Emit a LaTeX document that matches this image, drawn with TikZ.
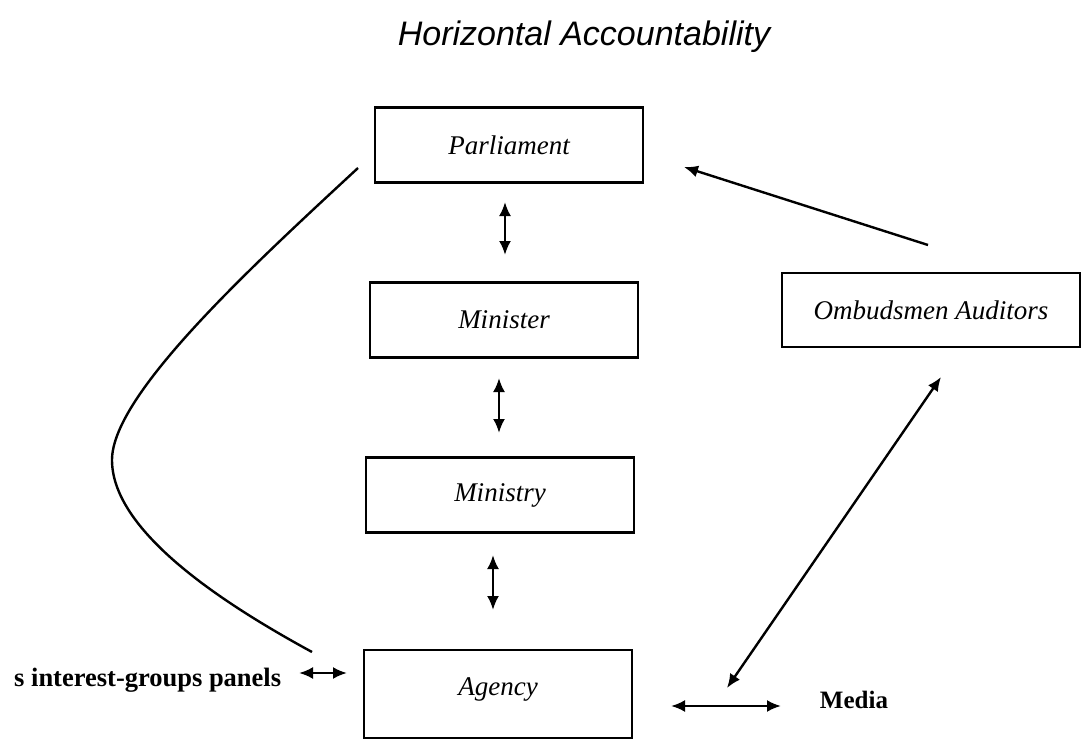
\documentclass[tikz,border=0pt]{standalone}
\usepackage{fontspec}
\setmainfont{Liberation Serif}
\newfontfamily\titlefont{Liberation Sans}
\usetikzlibrary{arrows.meta}
\begin{document}
\begin{tikzpicture}[x=1pt,y=-1pt,
  box/.style={draw, line width=2.4pt, minimum width=268pt, minimum height=75pt, inner sep=0pt,
    font=\fontsize{27}{31}\selectfont\itshape},
  tip/.tip={Latex[length=14pt,width=12pt]},
  conn/.style={line width=2.4pt, tip-tip},
  oneway/.style={line width=2.4pt, -tip},
  lbl/.style={font=\fontsize{26.5}{30}\selectfont\bfseries, inner sep=0pt}
]
\useasboundingbox (0,0) rectangle (1082,741);
\node[font=\titlefont\fontsize{34}{40}\selectfont\itshape] (title) at (584,37) {Horizontal Accountability};
\node[box] (parl) at (509,145) {Parliament};
\node[box] (min) at (504,320) {Minister};
\node[box] (mnst) at (500,495) {Ministry};
\node[box, minimum height=88pt] (agency) at (498,694) {\raisebox{14pt}{Agency}};
\node[box, minimum width=298pt, minimum height=74pt] (omb) at (931,310) {Ombudsmen Auditors};
\node[lbl, anchor=west] (groups) at (14,680) {s interest-groups panels};
\node[lbl, font=\fontsize{25}{30}\selectfont\bfseries] (media) at (854,700) {Media};
% vertical double arrows
\coordinate (a1) at (505,202); \coordinate (a2) at (505,255);
\coordinate (b1) at (499,378); \coordinate (b2) at (499,433);
\coordinate (c1) at (493,555); \coordinate (c2) at (493,610);
\draw[conn] (a1) -- (a2);
\draw[conn] (b1) -- (b2);
\draw[conn] (c1) -- (c2);
% ombudsmen to parliament
\coordinate (o1) at (928,245); \coordinate (p1) at (684,167);
\draw[oneway] (o1) -- (p1);
% ombudsmen <-> agency
\coordinate (o2) at (941,377); \coordinate (g1) at (727,688);
\draw[conn] (o2) -- (g1);
% agency <-> media
\coordinate (m1) at (671,706); \coordinate (m2) at (781,706);
\draw[conn] (m1) -- (m2);
% groups <-> agency
\coordinate (i1) at (299,673); \coordinate (i2) at (347,673);
\draw[conn] (i1) -- (i2);
% curve parliament to agency
\coordinate (cs) at (358,168); \coordinate (ce) at (312,652);
\draw[line width=2.4pt] (cs) .. controls (250,268) and (112,395) .. (112,460)
  .. controls (112,535) and (235,610) .. (ce);
\end{tikzpicture}
\end{document}
